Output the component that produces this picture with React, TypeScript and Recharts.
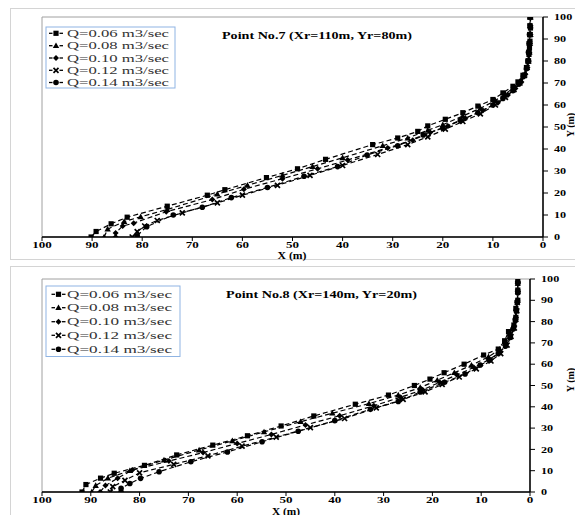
import React from 'react';
import { ScatterChart, Scatter, XAxis, YAxis, ReferenceArea } from 'recharts';

// ---------- Data: Point No.7 (Xr=110m, Yr=80m) ----------
const P7_Q006 = [
  { x: 90.2, y: 0 }, { x: 89.2, y: 2.5 }, { x: 86.2, y: 6 }, { x: 83, y: 9 }, { x: 75, y: 14 },
  { x: 67, y: 19 }, { x: 63.5, y: 21.5 }, { x: 55.2, y: 27 }, { x: 49, y: 31 }, { x: 43.4, y: 35.3 },
  { x: 34, y: 42 }, { x: 29, y: 45 }, { x: 25, y: 48 }, { x: 23, y: 50.5 }, { x: 19.5, y: 53.5 },
  { x: 16, y: 56.5 }, { x: 13, y: 59.5 }, { x: 10, y: 62.5 }, { x: 8, y: 65.5 }, { x: 6, y: 68.5 },
  { x: 5, y: 70.5 }, { x: 4, y: 73.5 }, { x: 3.3, y: 77 }, { x: 3, y: 80 }, { x: 2.8, y: 83 },
  { x: 2.7, y: 86 }, { x: 2.6, y: 89 }, { x: 2.6, y: 92 }, { x: 2.5, y: 95 }, { x: 2.5, y: 100 },
];
const P7_Q008 = [
  { x: 87.6, y: 0 }, { x: 86.9, y: 3.6 }, { x: 83.6, y: 7 }, { x: 80.3, y: 9.2 }, { x: 75, y: 12.5 },
  { x: 65, y: 19.5 }, { x: 59, y: 23.5 }, { x: 52, y: 28 }, { x: 46, y: 32 }, { x: 40, y: 36 },
  { x: 32, y: 41.5 }, { x: 27, y: 45 }, { x: 23, y: 48.5 }, { x: 20, y: 51 }, { x: 16, y: 55 },
  { x: 12.5, y: 58.5 }, { x: 9.5, y: 62 }, { x: 7.5, y: 65 }, { x: 5.8, y: 68 }, { x: 4.5, y: 71 },
  { x: 3.7, y: 74 }, { x: 3.2, y: 77 }, { x: 2.9, y: 80 }, { x: 2.7, y: 84 }, { x: 2.6, y: 88 },
  { x: 2.5, y: 92 }, { x: 2.5, y: 96 }, { x: 2.5, y: 100 },
];
const P7_Q010 = [
  { x: 85.3, y: 0 }, { x: 85.3, y: 1.8 }, { x: 83.9, y: 5 }, { x: 81.7, y: 6.3 }, { x: 75.2, y: 11.5 },
  { x: 66, y: 17 }, { x: 59.7, y: 21.7 }, { x: 52, y: 26.5 }, { x: 45, y: 31 }, { x: 39, y: 35 },
  { x: 31, y: 40.5 }, { x: 26, y: 44 }, { x: 22.5, y: 47.5 }, { x: 19, y: 50.5 }, { x: 15.5, y: 54 },
  { x: 12, y: 57.5 }, { x: 9, y: 61 }, { x: 7, y: 64.5 }, { x: 5.5, y: 67.5 }, { x: 4.3, y: 70.5 },
  { x: 3.5, y: 74 }, { x: 3.1, y: 77 }, { x: 2.8, y: 80 }, { x: 2.7, y: 84 }, { x: 2.6, y: 88 },
  { x: 2.5, y: 92 }, { x: 2.5, y: 96 }, { x: 2.5, y: 100 },
];
const P7_Q012 = [
  { x: 82, y: 0 }, { x: 81, y: 2.4 }, { x: 79.5, y: 5 }, { x: 77, y: 7.5 }, { x: 72, y: 11 },
  { x: 65, y: 15.5 }, { x: 60, y: 19 }, { x: 53, y: 23.5 }, { x: 46.5, y: 28 }, { x: 40, y: 32.5 },
  { x: 33, y: 37.5 }, { x: 27, y: 42 }, { x: 23, y: 45.5 }, { x: 19.5, y: 49 }, { x: 16, y: 52.5 },
  { x: 12.5, y: 56 }, { x: 9.5, y: 60 }, { x: 7.5, y: 63.5 }, { x: 5.8, y: 67 }, { x: 4.6, y: 70 },
  { x: 3.7, y: 73.5 }, { x: 3.2, y: 77 }, { x: 2.9, y: 80 }, { x: 2.8, y: 84 }, { x: 2.7, y: 88 },
  { x: 2.6, y: 92 }, { x: 2.6, y: 96 }, { x: 2.6, y: 100 },
];
const P7_Q014 = [
  { x: 81, y: 0.6 }, { x: 79.1, y: 4.7 }, { x: 73.8, y: 10 }, { x: 68, y: 13.5 }, { x: 62.2, y: 17.9 },
  { x: 55, y: 22.5 }, { x: 47.7, y: 27.6 }, { x: 41, y: 32 }, { x: 35.1, y: 37.3 }, { x: 29, y: 41.5 },
  { x: 23.9, y: 46.4 }, { x: 20, y: 49.5 }, { x: 16.5, y: 53 }, { x: 13, y: 56.5 }, { x: 10, y: 60 },
  { x: 8, y: 63 }, { x: 6, y: 66.5 }, { x: 4.8, y: 69.5 }, { x: 3.9, y: 73 }, { x: 3.3, y: 76.5 },
  { x: 3, y: 80 }, { x: 2.9, y: 84 }, { x: 2.8, y: 88 }, { x: 2.7, y: 92 }, { x: 2.6, y: 96 },
  { x: 2.6, y: 100 },
];

// ---------- Data: Point No.8 (Xr=140m, Yr=20m) ----------
const P8_Q006 = [
  { x: 91.8, y: 0 }, { x: 91, y: 3.5 }, { x: 88, y: 6.5 }, { x: 85.2, y: 8.8 }, { x: 79, y: 12.5 },
  { x: 72.4, y: 17.4 }, { x: 65, y: 22 }, { x: 57.9, y: 26.4 }, { x: 51, y: 31 }, { x: 44.3, y: 35.7 },
  { x: 35.8, y: 41.2 }, { x: 29, y: 45.5 }, { x: 23.7, y: 50 }, { x: 20.5, y: 53 }, { x: 17.6, y: 56 },
  { x: 13.5, y: 60 }, { x: 9.5, y: 64.3 }, { x: 6.5, y: 67.1 }, { x: 5.2, y: 71 }, { x: 4.4, y: 75.3 },
  { x: 3.3, y: 78.4 }, { x: 2.9, y: 82 }, { x: 2.9, y: 86.2 }, { x: 2.5, y: 90 }, { x: 2.5, y: 94.8 },
  { x: 2.5, y: 99 },
];
const P8_Q008 = [
  { x: 89.8, y: 0 }, { x: 89, y: 3 }, { x: 86.5, y: 6.5 }, { x: 82, y: 10 }, { x: 75, y: 15 },
  { x: 67.8, y: 19.7 }, { x: 61, y: 24 }, { x: 54.5, y: 28.2 }, { x: 47, y: 33 }, { x: 40.5, y: 37 },
  { x: 33, y: 41.5 }, { x: 27, y: 45.5 }, { x: 22.5, y: 49 }, { x: 19, y: 52.5 }, { x: 15.5, y: 56 },
  { x: 12, y: 59.5 }, { x: 8.5, y: 63.5 }, { x: 6.2, y: 67 }, { x: 5, y: 70.5 }, { x: 4.2, y: 74 },
  { x: 3.4, y: 78 }, { x: 3, y: 82 }, { x: 2.8, y: 86 }, { x: 2.6, y: 90 }, { x: 2.5, y: 95 },
  { x: 2.5, y: 99 },
];
const P8_Q010 = [
  { x: 88.1, y: 0 }, { x: 87, y: 3 }, { x: 84.5, y: 6.5 }, { x: 81.5, y: 10.3 }, { x: 74, y: 14.5 },
  { x: 67, y: 18.5 }, { x: 60, y: 22.8 }, { x: 53, y: 27 }, { x: 46, y: 31.5 }, { x: 39, y: 35.8 },
  { x: 32, y: 40.5 }, { x: 26.5, y: 44.5 }, { x: 22, y: 48 }, { x: 18.5, y: 51.5 }, { x: 15, y: 55 },
  { x: 11.5, y: 58.5 }, { x: 8.5, y: 62 }, { x: 6.2, y: 65.5 }, { x: 4.9, y: 69.5 }, { x: 4, y: 73.5 },
  { x: 3.3, y: 77.5 }, { x: 3, y: 81.5 }, { x: 2.8, y: 85.5 }, { x: 2.6, y: 89.5 }, { x: 2.5, y: 94 },
  { x: 2.5, y: 98.5 },
];
const P8_Q012 = [
  { x: 86, y: 0 }, { x: 85.5, y: 2.5 }, { x: 83, y: 5.5 }, { x: 80, y: 9 }, { x: 73, y: 13 },
  { x: 66, y: 17 }, { x: 59, y: 21.5 }, { x: 52, y: 25.8 }, { x: 45, y: 30.2 }, { x: 38, y: 34.5 },
  { x: 31.5, y: 39.5 }, { x: 26, y: 43.5 }, { x: 21.5, y: 47 }, { x: 18, y: 50.5 }, { x: 14.5, y: 54 },
  { x: 11, y: 57.8 }, { x: 8, y: 61.5 }, { x: 6, y: 65 }, { x: 4.7, y: 69 }, { x: 3.9, y: 73 },
  { x: 3.2, y: 77 }, { x: 2.9, y: 81 }, { x: 2.7, y: 85 }, { x: 2.6, y: 89 }, { x: 2.5, y: 94 },
  { x: 2.5, y: 98 },
];
const P8_Q014 = [
  { x: 83.8, y: 0 }, { x: 83.8, y: 1.7 }, { x: 82, y: 4 }, { x: 79.8, y: 6.4 }, { x: 76, y: 9.5 },
  { x: 69.5, y: 14.2 }, { x: 62, y: 18.8 }, { x: 54.9, y: 23.6 }, { x: 47.5, y: 28.5 }, { x: 40, y: 33.5 },
  { x: 32.7, y: 38.8 }, { x: 27, y: 42.5 }, { x: 22.5, y: 47 }, { x: 17.5, y: 51.5 }, { x: 13.3, y: 55.4 },
  { x: 10.2, y: 59.6 }, { x: 8.2, y: 62 }, { x: 6.5, y: 65 }, { x: 5, y: 68.5 }, { x: 4, y: 72.5 },
  { x: 3.4, y: 76.5 }, { x: 3, y: 80.5 }, { x: 2.8, y: 85 }, { x: 2.6, y: 89 }, { x: 2.5, y: 93.5 },
  { x: 2.5, y: 98 },
];

const SERIES_LABELS = ['Q=0.06 m3/sec', 'Q=0.08 m3/sec', 'Q=0.10 m3/sec', 'Q=0.12 m3/sec', 'Q=0.14 m3/sec'];
const SERIES_MARKERS = ['square', 'triangle', 'diamond', 'x', 'circle'];
const AXIS_TICKS = [0, 10, 20, 30, 40, 50, 60, 70, 80, 90, 100];
const TITLE_P7 = 'Point No.7 (Xr=110m, Yr=80m)';
const TITLE_P8 = 'Point No.8 (Xr=140m, Yr=20m)';
const X_LABEL = 'X (m)';
const Y_LABEL = 'Y (m)';

const P7_SERIES = [P7_Q006, P7_Q008, P7_Q010, P7_Q012, P7_Q014];
const P8_SERIES = [P8_Q006, P8_Q008, P8_Q010, P8_Q012, P8_Q014];

const SERIF = '"Liberation Serif", "Times New Roman", serif';

function Marker({ kind, cx, cy }: { kind: string; cx: number; cy: number }) {
  if (cx == null || cy == null) return null;
  switch (kind) {
    case 'square':
      return <rect x={cx - 2.6} y={cy - 2.6} width={5.2} height={5.2} fill="#000" />;
    case 'triangle':
      return <polygon points={`${cx},${cy - 3.3} ${cx + 3.2},${cy + 2.4} ${cx - 3.2},${cy + 2.4}`} fill="#000" />;
    case 'diamond':
      return <polygon points={`${cx},${cy - 3} ${cx + 3},${cy} ${cx},${cy + 3} ${cx - 3},${cy}`} fill="#000" />;
    case 'x':
      return (
        <path
          d={`M${cx - 2.5},${cy - 2.5}L${cx + 2.5},${cy + 2.5}M${cx + 2.5},${cy - 2.5}L${cx - 2.5},${cy + 2.5}`}
          stroke="#000"
          strokeWidth={1.7}
        />
      );
    default:
      return <circle cx={cx} cy={cy} r={2.8} fill="#000" />;
  }
}

const XTick = (props: any) => {
  const { x, y, payload } = props;
  return (
    <g transform={`translate(${x},${y})`}>
      <text x={0} y={0} dy="0.71em" textAnchor="middle" transform="scale(1.45,1)"
        fontFamily={SERIF} fontWeight="bold" fontSize={9} fill="#000">{payload.value}</text>
    </g>
  );
};

const YTick = (props: any) => {
  const { x, y, payload } = props;
  return (
    <g transform={`translate(${x},${y})`}>
      <text x={0} y={0} dy="0.35em" textAnchor="start" transform="scale(1.35,1)"
        fontFamily={SERIF} fontWeight="bold" fontSize={9} fill="#000">{payload.value}</text>
    </g>
  );
};

function Panel({ series, height, margin }: { series: any[]; height: number; margin: any }) {
  return (
    <ScatterChart width={575} height={height} margin={margin}>
      <ReferenceArea x1={0} x2={100} y1={0} y2={100} fill="none" stroke="#a0a0a0" strokeWidth={1} />
      <XAxis type="number" dataKey="x" domain={[0, 100]} ticks={AXIS_TICKS} reversed interval={0}
        allowDataOverflow height={20} tickSize={4} tickMargin={1}
        axisLine={{ stroke: '#000', strokeWidth: 1.5 }} tickLine={{ stroke: '#000' }} tick={<XTick />} />
      <YAxis type="number" dataKey="y" orientation="right" domain={[0, 100]} ticks={AXIS_TICKS} interval={0}
        allowDataOverflow width={30} tickSize={5} tickMargin={6}
        axisLine={{ stroke: '#000', strokeWidth: 1.5 }} tickLine={{ stroke: '#000' }} tick={<YTick />} />
      {series.map((data, i) => (
        <Scatter key={i} name={SERIES_LABELS[i]} data={data} isAnimationActive={false}
          line={{ stroke: '#000', strokeWidth: 1.2, strokeDasharray: '5 3' }} lineType="joint"
          shape={(p: any) => <Marker kind={SERIES_MARKERS[i]} cx={p.cx} cy={p.cy} />} />
      ))}
    </ScatterChart>
  );
}

function LegendBox({ x, y, w, h, rows, symX, textX, textLen }: any) {
  return (
    <g>
      <rect x={x} y={y} width={w} height={h} fill="#fff" stroke="#8fb4e3" strokeWidth={1} />
      {SERIES_LABELS.map((lab, i) => (
        <g key={i}>
          <line x1={symX - 7} x2={symX - 3.5} y1={rows[i]} y2={rows[i]} stroke="#000" strokeWidth={1.3} />
          <line x1={symX + 3.5} x2={symX + 7} y1={rows[i]} y2={rows[i]} stroke="#000" strokeWidth={1.3} />
          <Marker kind={SERIES_MARKERS[i]} cx={symX} cy={rows[i]} />
          <text x={textX} y={rows[i]} dy="0.35em" fontFamily={SERIF} fontSize={10.5} fill="#333"
            textLength={textLen} lengthAdjust="spacingAndGlyphs">{lab}</text>
        </g>
      ))}
    </g>
  );
}

export default function App() {
  return (
    <div style={{ position: 'absolute', left: 0, top: 0, width: 575, height: 515, overflow: 'hidden', background: '#fff' }}>
      <div style={{ position: 'absolute', left: 10, top: 8, width: 620, height: 250, border: '1px solid #d4d4d4' }} />
      <div style={{ position: 'absolute', left: 10, top: 266, width: 620, height: 300, border: '1px solid #d4d4d4' }} />
      <div style={{ position: 'absolute', left: 0, top: 0 }}>
        <Panel series={P7_SERIES} height={258} margin={{ top: 17, left: 42, right: 2, bottom: 1 }} />
      </div>
      <div style={{ position: 'absolute', left: 0, top: 262 }}>
        <Panel series={P8_SERIES} height={253} margin={{ top: 17, left: 42, right: 15, bottom: 3 }} />
      </div>
      <svg width={575} height={515} style={{ position: 'absolute', left: 0, top: 0, pointerEvents: 'none' }}>
        <LegendBox x={46} y={27} w={129} h={61} rows={[33.3, 45.7, 58, 70.3, 82.5]} symX={56} textX={67} textLen={102} />
        <LegendBox x={46} y={286} w={134} h={70.5} rows={[294.3, 307.7, 321.7, 335.3, 349.3]} symX={58.5} textX={67} textLen={105} />
        <text x={222} y={35} dy="0.35em" fontFamily={SERIF} fontWeight="bold" fontSize={10.5} fill="#000"
          textLength={190} lengthAdjust="spacingAndGlyphs">{TITLE_P7}</text>
        <text x={226} y={294} dy="0.35em" fontFamily={SERIF} fontWeight="bold" fontSize={10.5} fill="#000"
          textLength={191} lengthAdjust="spacingAndGlyphs">{TITLE_P8}</text>
        <text x={292} y={255} dy="0.35em" textAnchor="middle" fontFamily={SERIF} fontWeight="bold" fontSize={10} fill="#000"
          textLength={29} lengthAdjust="spacingAndGlyphs">{X_LABEL}</text>
        <text x={286} y={511} dy="0.35em" textAnchor="middle" fontFamily={SERIF} fontWeight="bold" fontSize={10} fill="#000"
          textLength={28} lengthAdjust="spacingAndGlyphs">{X_LABEL}</text>
        <text transform="translate(570,125) rotate(-90)" dy="0.35em" textAnchor="middle" fontFamily={SERIF} fontWeight="bold" fontSize={10} fill="#000">{Y_LABEL}</text>
        <text transform="translate(570,380) rotate(-90)" dy="0.35em" textAnchor="middle" fontFamily={SERIF} fontWeight="bold" fontSize={10} fill="#000">{Y_LABEL}</text>
      </svg>
    </div>
  );
}
